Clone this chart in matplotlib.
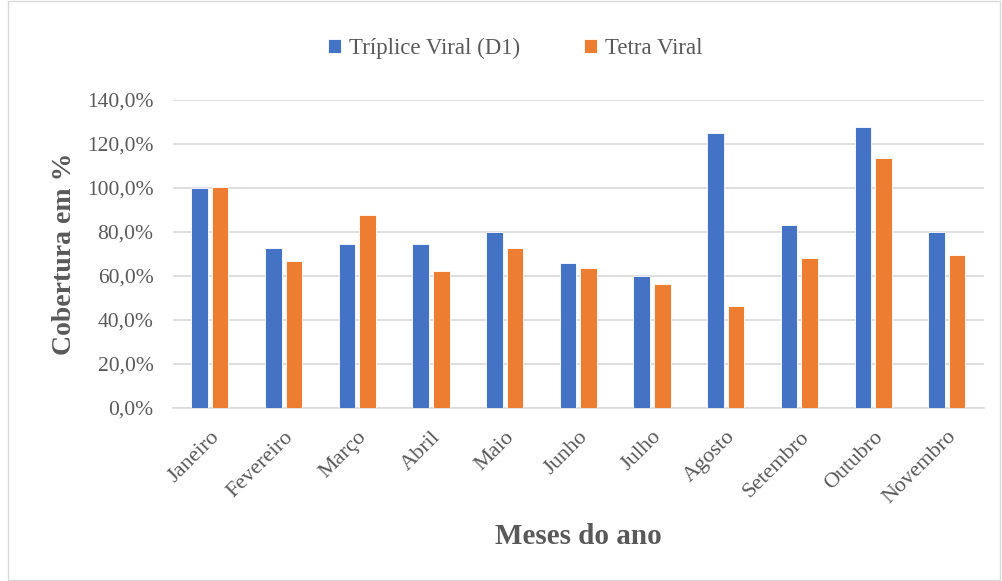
import numpy as np
import matplotlib
matplotlib.use("Agg")
import matplotlib.pyplot as plt
from matplotlib.ticker import FuncFormatter
from matplotlib.patches import Rectangle

meses = ["Janeiro", "Fevereiro", "Março", "Abril", "Maio", "Junho",
         "Julho", "Agosto", "Setembro", "Outubro", "Novembro"]
triplice = [100.0, 72.9, 74.6, 74.6, 79.8, 65.7, 59.9, 125.0, 83.0, 127.8, 79.9]
tetra = [100.3, 66.8, 87.7, 62.4, 72.6, 63.5, 56.3, 46.2, 68.3, 113.7, 69.5]
series_names = ["Tríplice Viral (D1)", "Tetra Viral"]

plt.rcParams['font.family'] = ['Liberation Serif', 'DejaVu Serif']
cinza = "#595959"

fig = plt.figure(figsize=(10.02, 5.81), dpi=100)
ax = fig.add_axes([0.1727, 0.2978, 0.809, 0.5301])

x = np.arange(len(meses))
w = 0.225
ax.bar(x - 0.14, triplice, w, color="#4472C4", edgecolor="white", linewidth=0.6,
       label=series_names[0], zorder=3)
ax.bar(x + 0.14, tetra, w, color="#ED7D31", edgecolor="white", linewidth=0.6,
       label=series_names[1], zorder=3)

ax.set_xlim(-0.5, len(meses) - 0.5)
ax.set_ylim(0, 140)
ax.set_yticks(np.arange(0, 141, 20))
ax.yaxis.set_major_formatter(FuncFormatter(lambda v, p: f"{v:.1f}%".replace(".", ",")))
ax.grid(axis="y", color="#d9d9d9", linewidth=1.2, zorder=0)
for s in ["top", "right", "left"]:
    ax.spines[s].set_visible(False)
ax.spines["bottom"].set_color("#d9d9d9")
ax.spines["bottom"].set_linewidth(1.2)
ax.tick_params(length=0, colors=cinza, labelsize=15.5)
ax.tick_params(axis="y", pad=14)
ax.set_xticks(x)
ax.set_xticklabels(meses, rotation=45, ha="right", rotation_mode="anchor", fontsize=16)
ax.tick_params(axis="x", pad=14)

ax.set_ylabel("Cobertura em %", fontsize=20, fontweight="bold", color=cinza, labelpad=7)
ax.set_xlabel("Meses do ano", fontsize=21, fontweight="bold", color=cinza, labelpad=11)

leg = fig.legend(loc="center", bbox_to_anchor=(0.514, 0.916), ncol=2, frameon=False,
                 fontsize=16.5, handlelength=0.55, handleheight=0.55, handletextpad=0.35,
                 columnspacing=2.8)
for t in leg.get_texts():
    t.set_color(cinza)

fig.patches.append(Rectangle((0.008, 0.002), 0.99, 0.996, transform=fig.transFigure,
                             fill=False, edgecolor="#d9d9d9", linewidth=1))

fig.savefig("out.png", dpi=100)
